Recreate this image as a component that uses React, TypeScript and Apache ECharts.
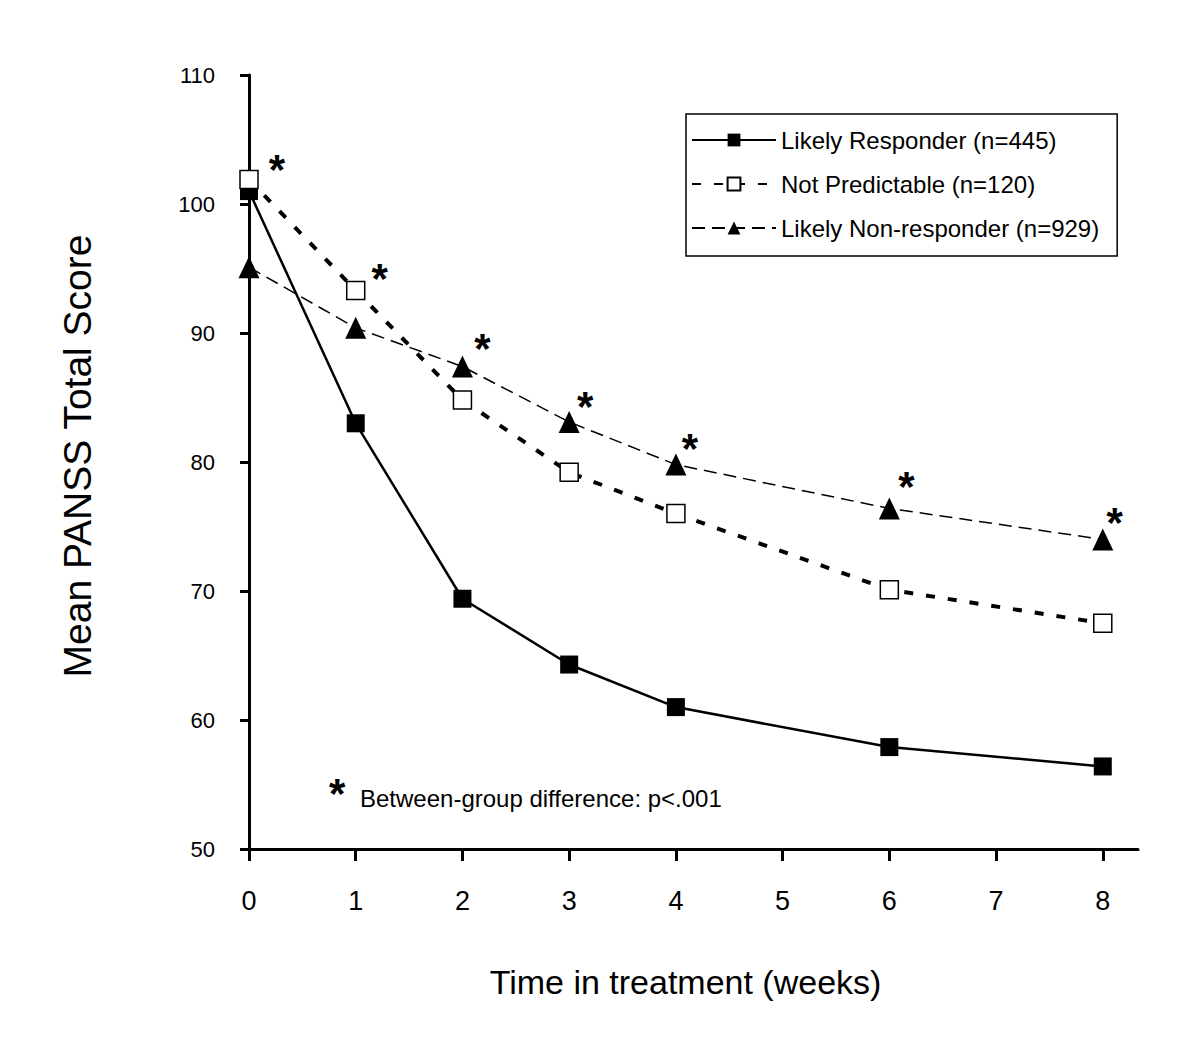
import React, { useEffect, useRef } from "react";
import * as echarts from "echarts";

// ---- data ----
const weeks = [0, 1, 2, 3, 4, 6, 8];
const xTickValues = [0, 1, 2, 3, 4, 5, 6, 7, 8];
const likelyResponder = [101.0, 83.0, 69.4, 64.3, 61.0, 57.9, 56.4];
const notPredictable = [101.9, 93.3, 84.8, 79.2, 76.0, 70.1, 67.5];
const likelyNonResponder = [95.1, 90.4, 87.4, 83.1, 79.8, 76.4, 74.0];
const seriesNames = [
  "Likely Responder (n=445)",
  "Not Predictable (n=120)",
  "Likely Non-responder (n=929)",
];
const significantWeeks = [0, 1, 2, 3, 4, 6, 8];
const footnote = "Between-group difference: p<.001";
const xTitle = "Time in treatment (weeks)";
const yTitle = "Mean PANSS Total Score";

const FONT = "'Liberation Sans', Arial, sans-serif";

// label offsets of the significance stars (styling only)
const starOffsets: [number, number][] = [
  [28, -10],
  [24, -12],
  [20, -18],
  [16, -16],
  [14, -16],
  [17, -22],
  [12, -17],
];

export default function App() {
  const ref = useRef<HTMLDivElement>(null);
  useEffect(() => {
    if (!ref.current) return;
    const chart = echarts.init(ref.current, null, { renderer: "svg" });
    const toPairs = (arr: number[]) => weeks.map((w, i) => [w, arr[i]]);
    const starData = significantWeeks.map((w, k) => {
      const i = weeks.indexOf(w);
      const top = Math.max(likelyResponder[i], notPredictable[i], likelyNonResponder[i]);
      return {
        value: [w, top],
        label: { offset: starOffsets[k] },
      };
    });

    chart.setOption({
      animation: false,
      backgroundColor: "#ffffff",
      grid: { left: 249, top: 75, right: 62, bottom: 198, containLabel: false },
      xAxis: {
        type: "value",
        min: 0,
        max: 8.33,
        interval: 1,
        name: xTitle,
        nameLocation: "middle",
        nameGap: 116,
        nameTextStyle: {
          fontFamily: FONT,
          fontSize: 34,
          color: "#000",
          padding: [0, 16, 0, 0],
        },
        axisLine: { show: true, onZero: false, lineStyle: { color: "#000", width: 3 } },
        axisTick: {
          show: true,
          inside: false,
          length: 12,
          customValues: xTickValues,
          lineStyle: { color: "#000", width: 3 },
        },
        axisLabel: {
          show: true,
          customValues: xTickValues,
          margin: 38,
          fontFamily: FONT,
          fontSize: 27,
          color: "#000",
        },
        splitLine: { show: false },
      },
      yAxis: {
        type: "value",
        min: 50,
        max: 110,
        interval: 10,
        name: yTitle,
        nameLocation: "middle",
        nameRotate: 90,
        nameGap: 152,
        nameTextStyle: {
          fontFamily: FONT,
          fontSize: 39,
          color: "#000",
          padding: [0, 0, 0, 12],
        },
        axisLine: { show: true, lineStyle: { color: "#000", width: 3 } },
        axisTick: { show: true, inside: false, length: 9, lineStyle: { color: "#000", width: 3 } },
        axisLabel: { margin: 34, fontFamily: FONT, fontSize: 22, color: "#000" },
        splitLine: { show: false },
      },
      legend: {
        show: true,
        orient: "vertical",
        left: 686,
        top: 114,
        data: seriesNames,
        itemWidth: 84,
        itemHeight: 16,
        itemGap: 20,
        padding: [14, 18, 16, 5],
        borderColor: "#000",
        borderWidth: 1.5,
        borderRadius: 0,
        backgroundColor: "#fff",
        textStyle: { fontFamily: FONT, fontSize: 24, color: "#000" },
      },
      graphic: [
        {
          type: "text",
          left: 329,
          top: 772,
          style: { text: "*", font: `bold 42px ${FONT}`, fill: "#000" },
        },
        {
          type: "text",
          left: 360,
          top: 786,
          style: { text: footnote, font: `24px ${FONT}`, fill: "#000" },
        },
      ],
      series: [
        {
          name: seriesNames[0],
          type: "line",
          data: toPairs(likelyResponder),
          symbol: "rect",
          symbolSize: 18,
          itemStyle: { color: "#000", borderColor: "#000", borderWidth: 0 },
          lineStyle: { color: "#000", width: 2.5, type: "solid" },
          z: 2,
        },
        {
          name: seriesNames[1],
          type: "line",
          data: toPairs(notPredictable),
          symbol: "rect",
          symbolSize: 18,
          itemStyle: { color: "#fff", borderColor: "#000", borderWidth: 1.5 },
          lineStyle: { color: "#000", width: 4, type: [9, 13] },
          z: 3,
        },
        {
          name: seriesNames[2],
          type: "line",
          data: toPairs(likelyNonResponder),
          symbol: "triangle",
          symbolSize: [21, 22],
          itemStyle: { color: "#000", borderColor: "#000", borderWidth: 0 },
          lineStyle: { color: "#000", width: 1.5, type: [13, 7] },
          z: 4,
        },
        {
          name: "significance",
          type: "scatter",
          data: starData,
          symbol: "circle",
          symbolSize: 1,
          itemStyle: { color: "rgba(0,0,0,0)", opacity: 1 },
          silent: true,
          label: {
            show: true,
            position: "inside",
            formatter: "*",
            fontFamily: FONT,
            fontSize: 42,
            fontWeight: "bold",
            color: "#000",
            opacity: 1,
            textBorderWidth: 0,
          },
          z: 5,
        },
      ],
    });
    return () => chart.dispose();
  }, []);

  return (
    <div
      ref={ref}
      style={{ position: "fixed", left: 0, top: 0, width: 1200, height: 1047, background: "#fff" }}
    />
  );
}
